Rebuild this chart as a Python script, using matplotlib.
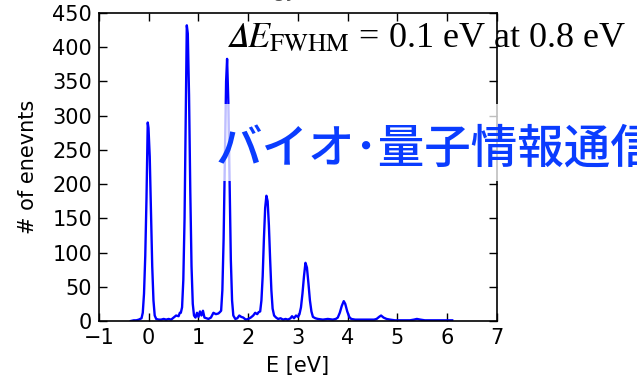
import matplotlib
matplotlib.use("Agg")
import matplotlib.pyplot as plt
from matplotlib.patches import Rectangle

# spectrum
energy = [-0.36, -0.30, -0.25, -0.20, -0.17, -0.145, -0.12, -0.095, -0.07, -0.045,
          -0.02, -0.005, 0.02, 0.045, 0.07, 0.095, 0.12, 0.15, 0.20, 0.25,
          0.30, 0.35, 0.40, 0.45, 0.50, 0.55, 0.60, 0.625, 0.645, 0.67,
          0.695, 0.72, 0.745, 0.765, 0.785, 0.81, 0.835, 0.86, 0.885, 0.91,
          0.94, 0.97, 1.00, 1.03, 1.06, 1.09, 1.12, 1.16, 1.20, 1.25,
          1.30, 1.35, 1.40, 1.43, 1.455, 1.48, 1.505, 1.53, 1.555, 1.575,
          1.60, 1.625, 1.65, 1.675, 1.70, 1.74, 1.78, 1.82, 1.86, 1.90,
          1.95, 2.00, 2.05, 2.10, 2.14, 2.18, 2.21, 2.24, 2.265, 2.29,
          2.315, 2.34, 2.365, 2.39, 2.415, 2.44, 2.465, 2.49, 2.52, 2.56,
          2.60, 2.65, 2.70, 2.75, 2.80, 2.85, 2.88, 2.92, 2.96, 3.00,
          3.03, 3.06, 3.09, 3.12, 3.15, 3.18, 3.21, 3.24, 3.27, 3.30,
          3.35, 3.40, 3.50, 3.60, 3.70, 3.76, 3.80, 3.84, 3.88, 3.92,
          3.95, 3.99, 4.03, 4.07, 4.15, 4.30, 4.45, 4.53, 4.58, 4.63,
          4.67, 4.72, 4.78, 4.85, 4.95, 5.10, 5.25, 5.33, 5.39, 5.46,
          5.55, 5.70, 5.85, 6.00, 6.10]
counts = [0, 1, 1, 2, 3, 4, 12, 40, 95, 180,
          290, 282, 240, 160, 80, 30, 8, 3, 2, 2,
          3, 2, 3, 2, 5, 8, 7, 12, 12, 20,
          60, 150, 300, 432, 420, 330, 190, 80, 25, 8,
          5, 12, 6, 14, 8, 15, 5, 4, 3, 5,
          12, 10, 11, 13, 15, 45, 120, 240, 350, 383,
          320, 200, 90, 30, 8, 3, 4, 8, 6, 5,
          2, 3, 5, 8, 12, 10, 13, 14, 30, 65,
          120, 165, 183, 175, 140, 90, 45, 18, 8, 5,
          3, 4, 2, 3, 2, 4, 7, 4, 8, 6,
          10, 20, 40, 65, 85, 78, 55, 30, 14, 6,
          4, 3, 2, 3, 2, 3, 5, 12, 22, 29,
          25, 14, 6, 3, 2, 2, 2, 2, 3, 6,
          8, 5, 3, 2, 1, 1, 1, 2, 3, 2,
          1, 1, 1, 1, 1]

xticks = [-1, 0, 1, 2, 3, 4, 5, 6, 7]
yticks = [0, 50, 100, 150, 200, 250, 300, 350, 400, 450]

plt.rcParams['mathtext.fontset'] = 'stix'

fig = plt.figure(figsize=(6.37, 3.75), dpi=100)
ax = fig.add_axes([0.1554, 0.144, 0.6248, 0.8213])
ax.plot(energy, counts, color='#0000ff', lw=1.7)
ax.set_xlim(-1, 7)
ax.set_ylim(0, 450)
ax.set_xticks(xticks)
ax.set_yticks(yticks)
ax.set_xticklabels(['\u22121'] + [str(t) for t in xticks[1:]])
ax.tick_params(direction='in', length=6, width=1, top=True, right=True,
               labelsize=15, pad=5)
for s in ax.spines.values():
    s.set_linewidth(1.2)
ax.set_xlabel('E [eV]', fontsize=15, labelpad=6)
ax.set_ylabel('# of enevnts', fontsize=15, labelpad=10)

# faint, mostly cut-off title at the top
fig.text(0.45, 1.008, 'Energy (eV)', fontsize=14, color='#555555',
         ha='center', va='baseline')

fig.text(0.355, 0.875, '$\U0001D6E5\\mathit{E}_{\\mathrm{FWHM}}$ = 0.1 eV at 0.8 eV',
         fontsize=26, family='Liberation Serif', color='black',
         ha='left', va='baseline', zorder=3)

# semi-transparent white box behind the blue label
fig.patches.append(Rectangle((222 / 637, 1 - 181 / 375), 1, 77 / 375,
                             transform=fig.transFigure, facecolor='white',
                             alpha=0.75, edgecolor='none', zorder=1))
fig.text(0.339, 0.603, 'バイオ\uff65量子情報通信', fontsize=33.5, fontweight='medium',
         family=['Noto Sans CJK JP', 'DejaVu Sans'], color='#0a3cff',
         ha='left', va='center', zorder=3)

fig.savefig('out.png', dpi=100)
